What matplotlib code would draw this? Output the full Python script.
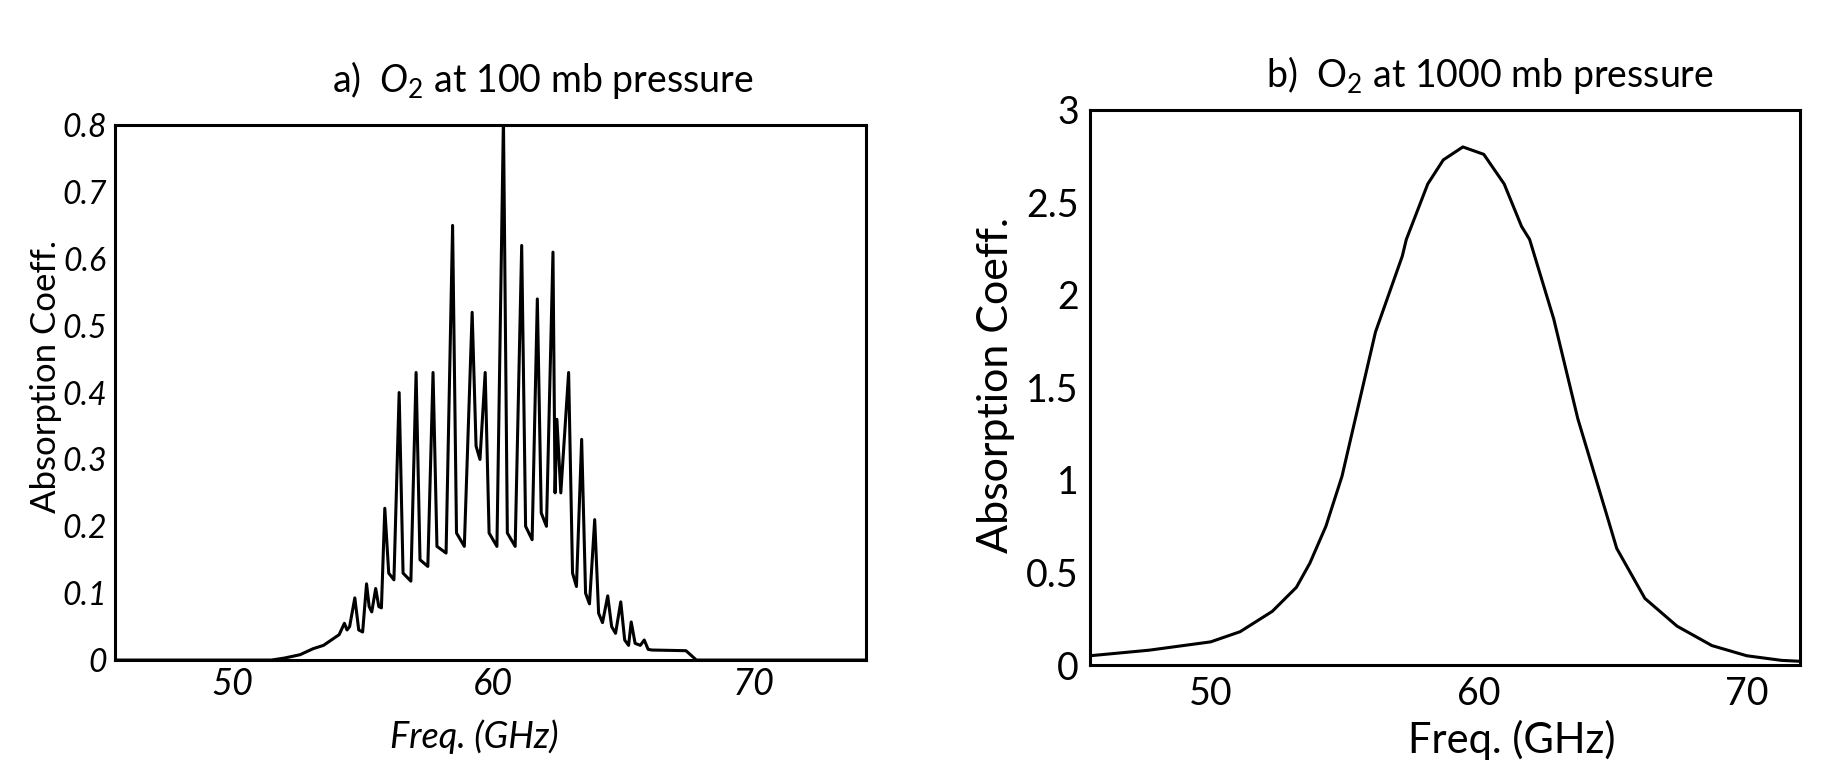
import matplotlib
matplotlib.use("Agg")
import matplotlib.pyplot as plt

plt.rcParams['font.family'] = ['Lato', 'DejaVu Sans']
plt.rcParams['mathtext.fontset'] = 'custom'
plt.rcParams['mathtext.rm'] = 'Lato'
plt.rcParams['mathtext.it'] = 'Lato:italic'

# panel a: O2 at 100 mb, line spectrum (vertices)
freq_a = [45.5, 51.5, 52.0, 52.6, 53.1, 53.5, 53.8, 54.1, 54.3, 54.4, 54.5,
          54.7, 54.85, 55.0, 55.15, 55.25, 55.35, 55.5, 55.62, 55.72,
          55.85, 56.0, 56.2, 56.4, 56.55, 56.85, 57.05, 57.2, 57.5,
          57.7, 57.85, 58.2, 58.45, 58.6, 58.9, 59.2, 59.35, 59.5,
          59.7, 59.85, 60.15, 60.4, 60.55, 60.85, 61.1, 61.25, 61.5,
          61.7, 61.85, 62.05, 62.3, 62.38, 62.45, 62.6, 62.9, 63.05, 63.2,
          63.4, 63.55, 63.7, 63.9, 64.05, 64.2, 64.4, 64.55, 64.7,
          64.9, 65.05, 65.2, 65.3, 65.45, 65.65, 65.8, 65.95, 66.1,
          67.4, 67.8, 74.3]
absorb_a = [0, 0, 0.003, 0.008, 0.017, 0.022, 0.03, 0.038, 0.055, 0.045, 0.05,
            0.093, 0.045, 0.042, 0.114, 0.08, 0.072, 0.107, 0.08, 0.078,
            0.227, 0.13, 0.12, 0.40, 0.13, 0.118, 0.43, 0.15, 0.14,
            0.43, 0.17, 0.16, 0.65, 0.19, 0.17, 0.52, 0.32, 0.30,
            0.43, 0.19, 0.17, 0.81, 0.19, 0.17, 0.62, 0.20, 0.18,
            0.54, 0.22, 0.20, 0.61, 0.25, 0.36, 0.25, 0.43, 0.13, 0.11,
            0.33, 0.10, 0.084, 0.21, 0.07, 0.056, 0.096, 0.05, 0.04,
            0.087, 0.03, 0.022, 0.057, 0.025, 0.022, 0.03, 0.016, 0.015,
            0.014, 0, 0]

# panel b: O2 at 1000 mb, pressure-broadened band
freq_b = [45.5, 47.7, 50.0, 51.1, 52.3, 53.2, 53.7, 54.3, 54.9, 56.15, 57.15,
          57.3, 58.1, 58.68, 59.41, 60.19, 60.95, 61.6, 61.9, 62.8, 63.7,
          64.8, 65.15, 66.2, 67.4, 68.7, 70.0, 71.3, 72.0]
absorb_b = [0.05, 0.08, 0.125, 0.18, 0.29, 0.42, 0.55, 0.75, 1.02, 1.80, 2.21,
            2.30, 2.60, 2.73, 2.80, 2.76, 2.60, 2.37, 2.30, 1.87, 1.33,
            0.80, 0.63, 0.36, 0.21, 0.105, 0.05, 0.025, 0.02]

xticks = [50, 60, 70]
yticks_a = [0, 0.1, 0.2, 0.3, 0.4, 0.5, 0.6, 0.7, 0.8]
ylabels_a = ['0', '0.1', '0.2', '0.3', '0.4', '0.5', '0.6', '0.7', '0.8']
yticks_b = [0, 0.5, 1, 1.5, 2, 2.5, 3]
ylabels_b = ['0', '0.5', '1', '1.5', '2', '2.5', '3']

fig = plt.figure(figsize=(18.45, 7.72), dpi=100)
ax_a = fig.add_axes([0.0623, 0.145, 0.407, 0.693])
ax_b = fig.add_axes([0.5908, 0.1386, 0.385, 0.719])

# panel a
ax_a.plot(freq_a, absorb_a, color='black', lw=2.2)
ax_a.set_xlim(45.5, 74.3)
ax_a.set_ylim(0, 0.8)
ax_a.set_xticks(xticks)
ax_a.set_xticklabels([str(t) for t in xticks], fontsize=26, style='italic')
ax_a.set_yticks(yticks_a)
ax_a.set_yticklabels(ylabels_a, fontsize=23, style='italic')
ax_a.tick_params(length=0, pad=6)
ax_a.set_xlabel('Freq. (GHz)', fontsize=26, style='italic')
ax_a.xaxis.set_label_coords(0.478, -0.11)
ax_a.set_ylabel('Absorption Coeff.', fontsize=25)
ax_a.yaxis.set_label_coords(-0.071, 0.53)
ax_a.text(0.57, 1.084, r'a)  $O_2$ at 100 mb pressure', transform=ax_a.transAxes,
          ha='center', va='center', fontsize=27)

# panel b
ax_b.plot(freq_b, absorb_b, color='black', lw=2.2)
ax_b.set_xlim(45.5, 72)
ax_b.set_ylim(0, 3)
ax_b.set_xticks(xticks)
ax_b.set_xticklabels([str(t) for t in xticks], fontsize=27)
ax_b.set_yticks(yticks_b)
ax_b.set_yticklabels(ylabels_b, fontsize=27)
ax_b.tick_params(length=0, pad=8)
ax_b.set_xlabel('Freq. (GHz)', fontsize=30)
ax_b.xaxis.set_label_coords(0.594, -0.099)
ax_b.set_ylabel('Absorption Coeff.', fontsize=31)
ax_b.yaxis.set_label_coords(-0.105, 0.505)
ax_b.text(0.563, 1.063, r'b)  O$_2$ at 1000 mb pressure', transform=ax_b.transAxes,
          ha='center', va='center', fontsize=27)

for ax in (ax_a, ax_b):
    for s in ax.spines.values():
        s.set_linewidth(2.2)

fig.savefig('out.png', dpi=100)
